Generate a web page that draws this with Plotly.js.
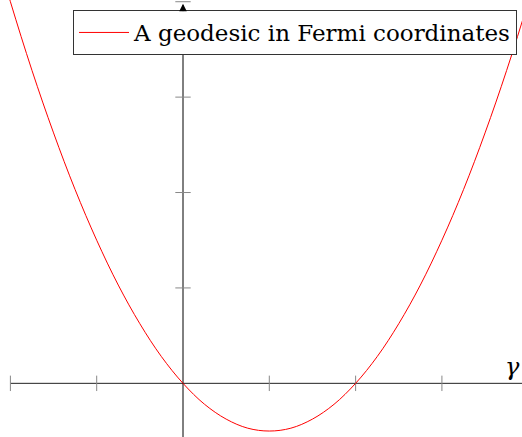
<!DOCTYPE html>
<html>
<head>
<meta charset="utf-8">
<script src="https://cdn.plot.ly/plotly-3.0.1.min.js"></script>
<style>html,body{margin:0;padding:0;background:#fff;}#chart{width:522px;height:437px;}</style>
</head>
<body>
<div id="chart"></div>
<script>
// Data
var geoX = [-2.25, -2, -1.75, -1.5, -1.25, -1, -0.75, -0.5, -0.25, 0, 0.25, 0.5, 0.75, 1, 1.25, 1.5, 1.75, 2, 2.25, 2.5, 2.75, 3, 3.25, 3.5, 3.75, 4, 4.25];
var geoY = [4.78, 4, 3.28, 2.625, 2.03, 1.5, 1.03, 0.625, 0.28, 0, -0.22, -0.375, -0.47, -0.5, -0.47, -0.375, -0.22, 0, 0.28, 0.625, 1.03, 1.5, 2.03, 2.625, 3.28, 4, 4.78];
var xTicks = [-2, -1, 1, 2, 3];
var yTicks = [1, 2, 3, 4];
var seriesName = "A geodesic in Fermi coordinates";
var xLabel = "γ";

var xRange = [-2.1205, 3.928];
var yRange = [-0.5625, 4.018];
var serif = '"DejaVu Serif", serif';

var traces = [
  {
    x: xTicks, y: xTicks.map(function(){return 0;}),
    mode: 'markers', type: 'scatter', showlegend: false, hoverinfo: 'skip',
    marker: {symbol: 'line-ns-open', size: 11, color: '#888', line: {color: '#888', width: 1}}
  },
  {
    x: yTicks.map(function(){return 0;}), y: yTicks,
    mode: 'markers', type: 'scatter', showlegend: false, hoverinfo: 'skip',
    marker: {symbol: 'line-ew-open', size: 11, color: '#888', line: {color: '#888', width: 1}}
  },
  {
    x: geoX, y: geoY, mode: 'lines', type: 'scatter', name: seriesName,
    line: {color: '#ff0000', width: 1, shape: 'spline'}
  }
];

var layout = {
  width: 522, height: 437,
  margin: {l: 0, r: 0, t: 0, b: 0, pad: 0},
  paper_bgcolor: '#fff', plot_bgcolor: '#fff',
  xaxis: {range: xRange, visible: false, fixedrange: true},
  yaxis: {range: yRange, visible: false, fixedrange: true},
  shapes: [
    {type: 'line', xref: 'x', yref: 'y', x0: xTicks[0], x1: xRange[1], y0: 0, y1: 0, line: {color: '#222', width: 1}, layer: 'below'},
    {type: 'line', xref: 'x', yref: 'y', x0: 0, x1: 0, y0: yRange[0], y1: yTicks[yTicks.length-1] - 0.04, line: {color: '#000', width: 1}, layer: 'below'}
  ],
  annotations: [
    {x: 0, y: yTicks[yTicks.length-1] - 0.02, xref: 'x', yref: 'y', ax: 0, ay: 9, text: '', showarrow: true, arrowhead: 2, arrowsize: 1.5, arrowwidth: 1, arrowcolor: '#000'},
    {x: 512/522, y: 1 - 367/437, xref: 'paper', yref: 'paper', xanchor: 'center', yanchor: 'middle',
     text: '<i>' + xLabel + '</i>', showarrow: false,
     font: {family: serif, size: 24, color: '#000'}}
  ],
  showlegend: true,
  legend: {
    x: 73/522, y: 1 - 10/437, xanchor: 'left', yanchor: 'top',
    bgcolor: '#fff', bordercolor: '#333', borderwidth: 1, itemwidth: 50,
    font: {family: serif, size: 23, color: '#000'}
  }
};

Plotly.newPlot('chart', traces, layout, {staticPlot: true, displayModeBar: false});
</script>
</body>
</html>
